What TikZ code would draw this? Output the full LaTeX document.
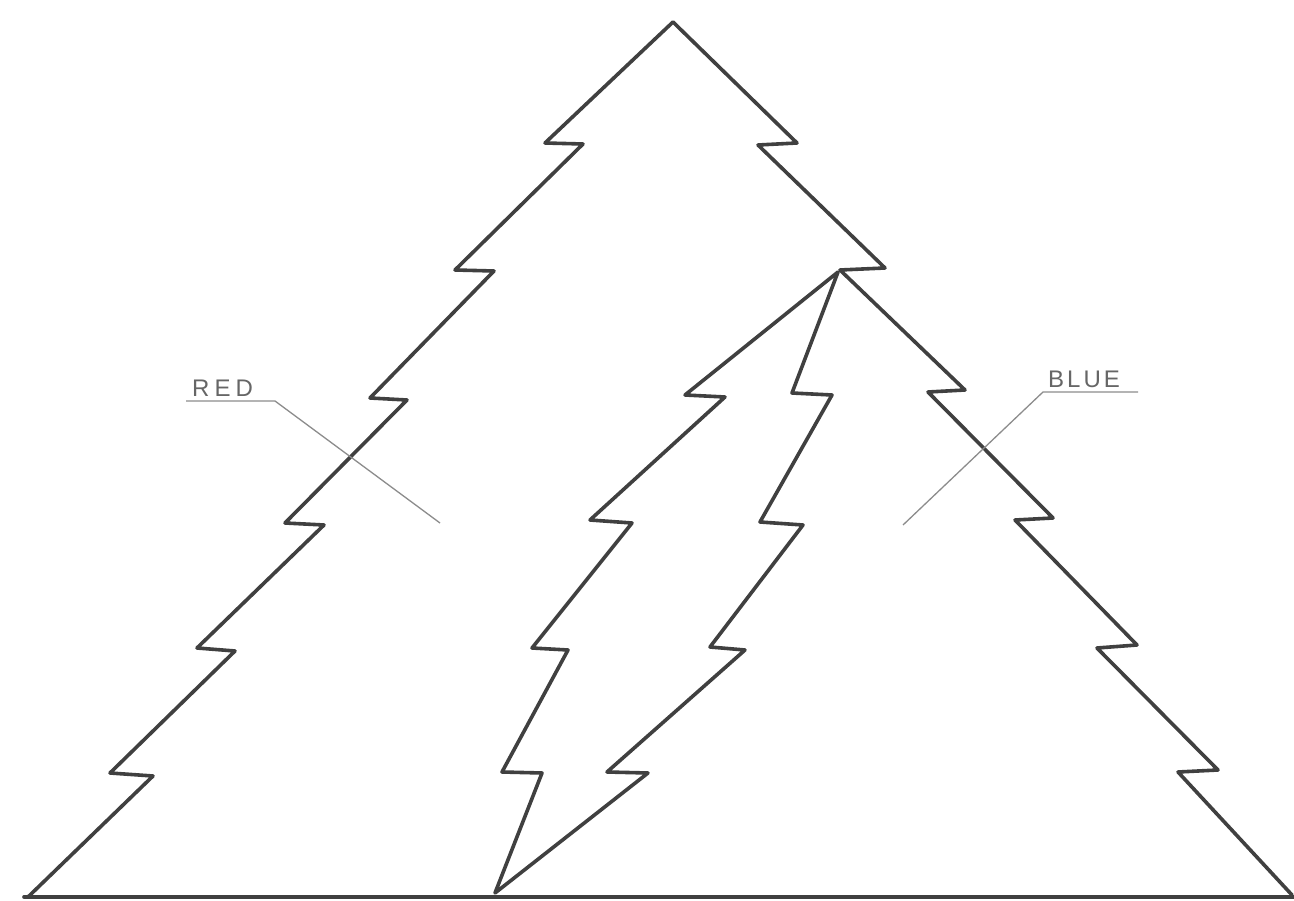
\documentclass[tikz,border=0pt]{standalone}
\usepackage{fontspec}
\setmainfont{Liberation Sans}
\begin{document}
\begin{tikzpicture}[x=1pt,y=-1pt,
  outline/.style={draw=black!75, line width=3.6pt, line join=round, line cap=round},
  leader/.style={draw=black!45, line width=1.3pt},
  lbl/.style={text=black!60, font=\fontsize{24}{24}\selectfont, inner sep=0pt, anchor=south west}]
\useasboundingbox[fill=white] (0,0) rectangle (1294,901);
% large tree
\draw[outline] (28,897) -- (153,776) -- (110,773) -- (235,651) -- (197,648) -- (324,525) -- (285,523)
  -- (407,400) -- (370,398) -- (494,271) -- (455,270) -- (583,144) -- (545,143) -- (673,22)
  -- (797,143) -- (758,145) -- (885,268) -- (840,270) -- (965,390) -- (928,392) -- (1053,518)
  -- (1015,520) -- (1137,645) -- (1097,648) -- (1218,770) -- (1178,772) -- (1292,895);
% base line
\draw[outline] (24,897) -- (1294,897);
% inner bolt
\draw[outline] (495,893) -- (542,773) -- (502,772) -- (568,650) -- (532,648) -- (632,523) -- (590,520)
  -- (725,397) -- (685,395) -- (838,272) -- (792,393) -- (832,395) -- (760,522) -- (803,525)
  -- (710,647) -- (745,650) -- (607,772) -- (648,773) -- cycle;
% labels
\node[lbl] (red) at (192,397) {R\hspace{5pt}E\hspace{5pt}D};
\coordinate (redu0) at (186,401);
\coordinate (redu1) at (275,401);
\coordinate (redtip) at (440,523);
\draw[leader] (redu0) -- (redu1) -- (redtip);
\node[lbl] (blue) at (1048,388) {B\hspace{3pt}L\hspace{3pt}U\hspace{3pt}E};
\coordinate (blueu0) at (1043,392);
\coordinate (blueu1) at (1138,392);
\coordinate (bluetip) at (903,525);
\draw[leader] (blueu1) -- (blueu0) -- (bluetip);
\end{tikzpicture}
\end{document}
